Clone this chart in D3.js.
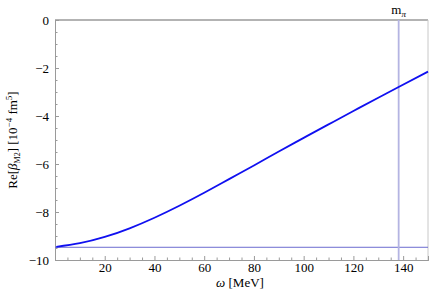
<!DOCTYPE html>
<html>
<head>
<meta charset="utf-8">
<script src="https://cdn.jsdelivr.net/npm/d3@7"></script>
<style>
  body { margin: 0; background: #fff; }
</style>
</head>
<body>
<div id="chart"></div>
<script>
// curve values
const omega = [0.5, 10, 20, 30, 40, 50, 60, 70, 80, 90, 100, 110, 120, 130, 138, 150]
const reBeta = [-9.45, -9.30, -9.04, -8.68, -8.24, -7.74, -7.20, -6.63, -6.06, -5.48, -4.91, -4.35, -3.79, -3.24, -2.80, -2.15]
const baseline = -9.47
const mPi = 138.2
const xTicks = [20, 40, 60, 80, 100, 120, 140]
const yTicks = [0, -2, -4, -6, -8, -10]

const width = 429, height = 296
const margin = { top: 20, right: 1, bottom: 36, left: 55 }
const serif = "'Liberation Serif', 'Times New Roman', 'DejaVu Serif', serif"

const svg = d3.select("#chart").append("svg")
    .attr("width", width)
    .attr("height", height)
    .attr("font-family", serif)

const xScale = d3.scaleLinear()
    .domain([0, 150])
    .range([margin.left, width - margin.right])
const yScale = d3.scaleLinear()
    .domain([-10, 0])
    .range([height - margin.bottom, margin.top])

const fmt = d => d < 0 ? "\u2212" + Math.abs(d) : String(d)

// frame
const frame = "#9a9a9a"
svg.append("line")
    .attr("x1", xScale(0)).attr("x2", xScale(150))
    .attr("y1", yScale(0)).attr("y2", yScale(0))
    .attr("stroke", frame).attr("stroke-width", 1.6)
svg.append("line")
    .attr("x1", xScale(150)).attr("x2", xScale(150))
    .attr("y1", yScale(0)).attr("y2", yScale(-10))
    .attr("stroke", "#c8c8c8").attr("stroke-width", 1)

// axes (ticks pointing inward, Mathematica style)
const xAxis = d3.axisBottom(xScale)
    .tickValues(xTicks)
    .tickSize(-4)
    .tickFormat(fmt)
const xMinor = d3.axisBottom(xScale)
    .tickValues(d3.range(5, 150, 5).filter(v => v % 20 !== 0))
    .tickSize(-2.5)
    .tickFormat("")
const yAxis = d3.axisLeft(yScale)
    .tickValues(yTicks)
    .tickSize(-4)
    .tickFormat(fmt)
const yMinor = d3.axisLeft(yScale)
    .tickValues(d3.range(-9.5, 0, 0.5).filter(v => v % 2 !== 0))
    .tickSize(-2.5)
    .tickFormat("")

function styleAxis(g) {
    g.attr("font-family", serif).attr("font-size", 13)
    g.select(".domain").attr("stroke", frame).attr("stroke-width", 1)
    g.selectAll(".tick line").attr("stroke", frame)
    g.selectAll(".tick text").attr("fill", "#000")
}

svg.append("g").attr("transform", `translate(0,${yScale(-10)})`).call(xMinor).call(styleAxis)
svg.append("g").attr("transform", `translate(0,${yScale(-10)})`).call(xAxis).call(styleAxis)
svg.append("g").attr("transform", `translate(${xScale(0)},0)`).call(yMinor).call(styleAxis)
svg.append("g").attr("transform", `translate(${xScale(0)},0)`).call(yAxis).call(styleAxis)
    .selectAll(".tick text").attr("x", -6)

// reference lines
svg.append("line")
    .attr("x1", xScale(0)).attr("x2", xScale(150))
    .attr("y1", yScale(baseline)).attr("y2", yScale(baseline))
    .attr("stroke", "#6b6bcf").attr("stroke-width", 1)
svg.append("line")
    .attr("x1", xScale(mPi)).attr("x2", xScale(mPi))
    .attr("y1", yScale(0)).attr("y2", yScale(-10))
    .attr("stroke", "#b4b4e2").attr("stroke-width", 1.8)

// curve
const line = d3.line()
    .x((d, i) => xScale(omega[i]))
    .y(d => yScale(d))
    .curve(d3.curveNatural)
svg.append("path")
    .datum(reBeta)
    .attr("d", line)
    .attr("fill", "none")
    .attr("stroke", "#1010f0")
    .attr("stroke-width", 1.8)

// labels
const mLabel = svg.append("text")
    .attr("x", xScale(mPi))
    .attr("y", 14)
    .attr("text-anchor", "middle")
    .attr("font-size", 13)
mLabel.append("tspan").text("m")
mLabel.append("tspan").attr("dy", 3).attr("font-size", 9).attr("font-style", "italic").text("π")

const xLabel = svg.append("text")
    .attr("x", 240)
    .attr("y", 287)
    .attr("text-anchor", "middle")
    .attr("font-size", 13)
xLabel.append("tspan").attr("font-style", "italic").text("ω")
xLabel.append("tspan").text(" [MeV]")

const yLabel = svg.append("text")
    .attr("transform", `translate(17,140) rotate(-90)`)
    .attr("text-anchor", "middle")
    .attr("font-size", 13)
yLabel.append("tspan").text("Re[")
yLabel.append("tspan").attr("font-style", "italic").text("β")
yLabel.append("tspan").attr("dy", 2.5).attr("font-size", 8).text("M2")
yLabel.append("tspan").attr("dy", -2.5).text("] [10")
yLabel.append("tspan").attr("dy", -5).attr("font-size", 9).text("\u22124")
yLabel.append("tspan").attr("dy", 5).text(" fm")
yLabel.append("tspan").attr("dy", -5).attr("font-size", 9).text("5")
yLabel.append("tspan").attr("dy", 5).text("]")
</script>
</body>
</html>
